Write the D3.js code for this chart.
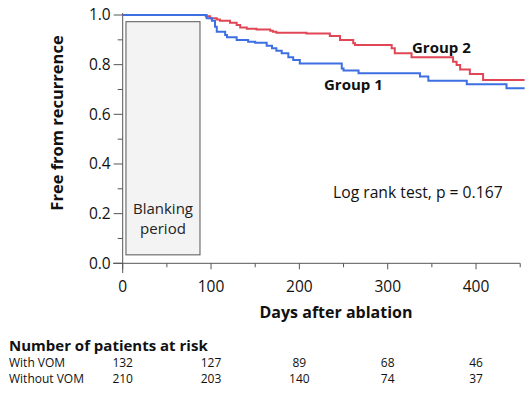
<!DOCTYPE html>
<html>
<head>
<meta charset="utf-8">
<script src="https://cdn.jsdelivr.net/npm/d3@7"></script>
<style>
  body { margin: 0; background: #fff; }
  svg { display: block; font-family: "Open Sans", sans-serif; }
</style>
</head>
<body>
<svg width="527" height="393"></svg>
<script>
// Kaplan-Meier steps (days, fraction free from recurrence)
var group1Days = [0, 95, 101, 104.5, 106.5, 116, 118, 129, 142, 150, 163, 169, 174, 180, 187.5, 193, 200.5, 248, 250, 267, 336.5, 346, 389.5, 434.5, 455];
var group1Surv = [1.0, 0.987, 0.977, 0.953, 0.933, 0.919, 0.910, 0.899, 0.892, 0.888, 0.876, 0.866, 0.856, 0.846, 0.830, 0.819, 0.805, 0.785, 0.776, 0.765, 0.752, 0.735, 0.721, 0.705, 0.705];

var group2Days = [0, 94, 99, 106.5, 110, 121.5, 129, 133, 140.5, 151.5, 167, 170, 174, 208, 234.5, 246, 261, 263, 304.5, 308, 327, 374, 378, 382, 393, 408, 455];
var group2Surv = [1.0, 0.995, 0.987, 0.982, 0.977, 0.969, 0.960, 0.950, 0.945, 0.942, 0.937, 0.933, 0.929, 0.925, 0.915, 0.899, 0.886, 0.879, 0.866, 0.846, 0.830, 0.812, 0.799, 0.781, 0.762, 0.738, 0.738];

var blankStart = 3.7, blankEnd = 87.5;

var riskDays = [0, 100, 200, 300, 400];
var riskLabels = ["With VOM", "Without VOM"];
var riskWith = [132, 127, 89, 68, 46];
var riskWithout = [210, 203, 140, 74, 37];

var svg = d3.select("svg");

var x = d3.scaleLinear().domain([0, 450]).range([122.7, 520.2]);
var y = d3.scaleLinear().domain([0, 1]).range([263.3, 15]);

var axisColor = "#555";

// blanking period box
svg.append("rect")
  .attr("x", x(blankStart))
  .attr("y", y(0.973))
  .attr("width", x(blankEnd) - x(blankStart))
  .attr("height", y(0.034) - y(0.973))
  .attr("fill", "#f3f3f3")
  .attr("stroke", "#555")
  .attr("stroke-width", 1);

svg.append("text")
  .attr("x", x((blankStart + blankEnd) / 2))
  .attr("text-anchor", "middle")
  .attr("font-size", 15)
  .attr("fill", "#222")
  .selectAll("tspan")
  .data(["Blanking", "period"])
  .enter().append("tspan")
    .attr("x", x((blankStart + blankEnd) / 2))
    .attr("y", function(d, i) { return 214 + i * 20; })
    .text(function(d) { return d; });

// y axis
var gy = svg.append("g").attr("transform", "translate(" + x(0) + ",0)");
gy.append("line").attr("y1", 13).attr("y2", 273).attr("stroke", axisColor);
gy.selectAll(".minor").data(d3.range(0.1, 1, 0.2)).enter().append("line")
  .attr("x1", -5).attr("x2", 0)
  .attr("y1", function(d) { return y(d); }).attr("y2", function(d) { return y(d); })
  .attr("stroke", axisColor);
var yt = gy.selectAll(".major").data(d3.range(0, 1.01, 0.2)).enter().append("g")
  .attr("transform", function(d) { return "translate(0," + y(d) + ")"; });
yt.append("line").attr("x1", -9).attr("x2", 0).attr("stroke", axisColor);
yt.append("text").attr("x", -12).attr("dy", "0.35em").attr("text-anchor", "end")
  .attr("font-size", 15.5).attr("fill", "#111")
  .text(d3.format(".1f"));

// x axis
var gx = svg.append("g").attr("transform", "translate(0," + y(0) + ")");
gx.append("line").attr("x1", 113).attr("x2", x(450)).attr("stroke", axisColor);
gx.selectAll(".minor").data(d3.range(50, 451, 100)).enter().append("line")
  .attr("x1", function(d) { return x(d); }).attr("x2", function(d) { return x(d); })
  .attr("y1", 0).attr("y2", 4)
  .attr("stroke", axisColor);
var xt = gx.selectAll(".major").data(d3.range(0, 401, 100)).enter().append("g")
  .attr("transform", function(d) { return "translate(" + x(d) + ",0)"; });
xt.append("line").attr("y1", 0).attr("y2", 6).attr("stroke", axisColor);
xt.append("text").attr("y", 29).attr("text-anchor", "middle")
  .attr("font-size", 15.5).attr("fill", "#111")
  .text(function(d) { return d; });

// axis titles
svg.append("text")
  .attr("x", 336).attr("y", 318)
  .attr("text-anchor", "middle")
  .attr("font-size", 16).attr("font-weight", "bold").attr("fill", "#111")
  .text("Days after ablation");

svg.append("text")
  .attr("transform", "translate(63,123) rotate(-90)")
  .attr("text-anchor", "middle")
  .attr("font-size", 16.5).attr("font-weight", "bold").attr("fill", "#111")
  .text("Free from recurrence");

// curves
var line = d3.line()
  .x(function(d) { return x(d[0]); })
  .y(function(d) { return y(d[1]); })
  .curve(d3.curveStepAfter);

svg.append("path")
  .datum(d3.zip(group2Days, group2Surv))
  .attr("d", line)
  .attr("fill", "none")
  .attr("stroke", "#e04656")
  .attr("stroke-width", 2);

svg.append("path")
  .datum(d3.zip(group1Days, group1Surv))
  .attr("d", line)
  .attr("fill", "none")
  .attr("stroke", "#3d6fe2")
  .attr("stroke-width", 2);

svg.append("text").attr("x", 412).attr("y", 53)
  .attr("font-size", 15).attr("font-weight", "bold").attr("fill", "#111")
  .text("Group 2");
svg.append("text").attr("x", 324).attr("y", 90)
  .attr("font-size", 15).attr("font-weight", "bold").attr("fill", "#111")
  .text("Group 1");

svg.append("text").attr("x", 333).attr("y", 198)
  .attr("font-size", 15.7).attr("fill", "#111")
  .text("Log rank test, p = 0.167");

// number at risk table
svg.append("text").attr("x", 9).attr("y", 351)
  .attr("font-size", 15).attr("font-weight", "bold").attr("fill", "#111")
  .text("Number of patients at risk");

var rows = [riskWith, riskWithout];
rows.forEach(function(vals, r) {
  var yy = 366.8 + r * 16.5;
  svg.append("text").attr("x", 9).attr("y", yy)
    .attr("font-size", 12).attr("fill", "#111")
    .text(riskLabels[r]);
  svg.selectAll(".risk" + r).data(vals).enter().append("text")
    .attr("x", function(d, i) { return x(riskDays[i]); })
    .attr("y", yy)
    .attr("text-anchor", "middle")
    .attr("font-size", 12).attr("fill", "#111")
    .text(function(d) { return d; });
});
</script>
</body>
</html>
